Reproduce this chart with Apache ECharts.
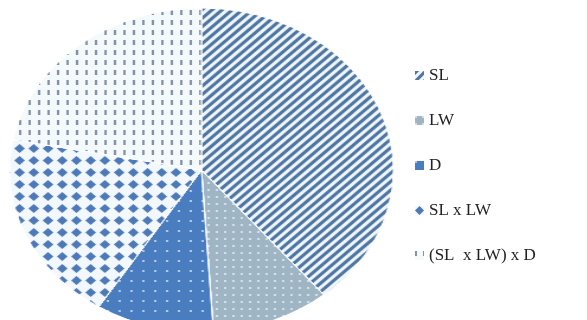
<!DOCTYPE html>
<html><head><meta charset="utf-8">
<script src="https://cdn.jsdelivr.net/npm/echarts@6/dist/echarts.min.js"></script>
<style>
html,body{margin:0;padding:0;background:#fff;width:587px;height:320px;overflow:hidden}
#pie{position:absolute;left:0;top:0;width:340px;height:320px;transform:scaleX(1.185);transform-origin:0 0}
#leg{position:absolute;left:0;top:0;width:587px;height:320px}
</style></head>
<body>
<div id="pie"></div>
<div id="leg"></div>
<script>
const categories = ['SL', 'LW', 'D', 'SL x LW', '(SL  x LW) x D'];
const values = [39, 10, 10, 19, 22];

const looks = [
  {color:'#eef6fb', decal:{symbol:'rect', color:'#4f76a3', dashArrayX:[[1,0]], dashArrayY:[2.6,3], rotation:-Math.PI/4, symbolSize:1}},
  {color:'#9fb5c4', decal:{symbol:'circle', color:'rgba(235,245,252,0.9)', dashArrayX:[1.6,5], dashArrayY:[1.6,5], symbolSize:1}},
  {color:'#4a7cc0', decal:{symbol:'circle', color:'#cfe3f5', dashArrayX:[1.6,8], dashArrayY:[1.6,8], symbolSize:1}},
  {color:'#f2f8fc', decal:{symbol:'diamond', color:'#4d79b8', dashArrayX:[9,3], dashArrayY:[9,3], symbolSize:1}},
  {color:'#f4f9fc', decal:{symbol:'rect', color:'#8592a6', dashArrayX:[2,6], dashArrayY:[5,5], symbolSize:1}}
];

const data = categories.map((n,i)=>({name:n, value:values[i], itemStyle:{color:looks[i].color, decal:looks[i].decal}}));

const pie = echarts.init(document.getElementById('pie'), null, {renderer:'canvas'});
pie.setOption({
  animation:false,
  series:[{
    type:'pie', center:[170,170], radius:[0,162], startAngle:90, clockwise:true,
    label:{show:false}, labelLine:{show:false},
    itemStyle:{borderColor:'#ffffff', borderWidth:1},
    data:data
  }]
});

const leg = echarts.init(document.getElementById('leg'));
leg.setOption({
  animation:false,
  legend:{
    orient:'vertical', left:410, top:62, itemWidth:9, itemHeight:9, itemGap:28,
    icon:'rect',
    textStyle:{fontFamily:'Liberation Serif', fontSize:17, color:'#222'},
    data:categories
  },
  series:[{
    type:'pie', center:[-500,-500], radius:[0,1], label:{show:false}, labelLine:{show:false},
    data:data
  }]
});
</script>
</body></html>
